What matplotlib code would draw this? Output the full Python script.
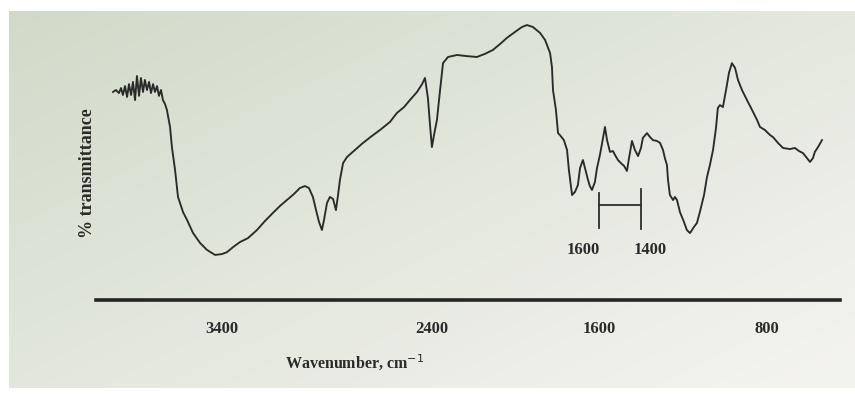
import matplotlib.pyplot as plt
import numpy as np

# spectrum (wavenumber in cm-1, relative % transmittance)
wavenumber = [3920, 3906, 3892, 3882, 3873, 3863, 3853, 3844, 3834, 3825,
              3815, 3806, 3796, 3787, 3777, 3768, 3758, 3748, 3739, 3729,
              3720, 3710, 3701, 3691, 3682, 3672, 3663, 3648, 3639, 3624,
              3610, 3586, 3567, 3538, 3505, 3472, 3433, 3400, 3376, 3347,
              3314, 3276, 3233, 3195, 3157, 3123, 3090, 3056, 3028, 3004,
              2985, 2966, 2951, 2937, 2923, 2913, 2899, 2885, 2870, 2856,
              2846, 2837, 2822, 2803, 2765, 2727, 2684, 2646, 2598, 2565,
              2531, 2503, 2469, 2445, 2431, 2417, 2407, 2398, 2388, 2374,
              2359, 2345, 2321, 2278, 2231, 2183, 2145, 2107, 2073, 2040,
              2002, 1968, 1944, 1916, 1882, 1858, 1834, 1825, 1820, 1806,
              1796, 1787, 1768, 1753, 1744, 1729, 1715, 1701, 1691, 1677,
              1667, 1653, 1644, 1634, 1620, 1610, 1596, 1581, 1572, 1562,
              1548, 1534, 1524, 1510, 1496, 1481, 1467, 1457, 1443, 1429,
              1414, 1400, 1391, 1371, 1357, 1343, 1324, 1309, 1295, 1286,
              1276, 1271, 1262, 1247, 1238, 1228, 1214, 1195, 1181, 1166,
              1147, 1133, 1119, 1099, 1085, 1071, 1056, 1042, 1033, 1023,
              1009, 994, 980, 966, 951, 937, 918, 894, 870, 846,
              832, 808, 784, 770, 746, 722, 689, 665, 646, 627,
              608, 593, 579, 570, 555, 536]
transmittance = [74.3, 75.0, 73.9, 75.7, 73.2, 76.4, 72.5, 77.1, 73.2, 77.9,
                 71.4, 80.0, 72.9, 79.3, 74.3, 78.6, 75.0, 77.9, 73.9, 77.1,
                 74.3, 76.4, 72.9, 75.0, 71.4, 70.0, 67.9, 61.8, 54.6, 46.4,
                 36.8, 31.4, 28.6, 23.9, 20.4, 17.9, 16.1, 16.4, 17.1, 18.9,
                 20.7, 22.1, 25.0, 28.2, 31.1, 33.6, 35.7, 37.9, 40.0, 40.7,
                 40.0, 36.8, 32.1, 27.9, 25.0, 28.6, 34.6, 36.8, 36.1, 32.1,
                 37.5, 42.9, 48.9, 51.1, 53.6, 56.1, 58.6, 60.7, 63.6, 66.8,
                 68.9, 71.4, 74.3, 77.1, 79.3, 72.1, 62.5, 54.6, 58.9, 64.3,
                 75.0, 84.6, 86.8, 87.5, 87.1, 86.8, 87.9, 89.3, 91.4, 93.6,
                 95.7, 97.5, 98.2, 97.5, 95.4, 92.9, 88.2, 83.2, 75.0, 67.9,
                 59.6, 58.9, 57.1, 53.6, 46.4, 37.5, 38.6, 41.1, 47.1, 50.0,
                 47.1, 42.9, 40.7, 39.3, 42.1, 47.1, 51.8, 57.9, 61.8, 57.1,
                 52.9, 53.2, 51.8, 50.0, 48.9, 47.9, 46.1, 50.7, 56.8, 53.6,
                 51.4, 54.3, 57.9, 59.6, 58.2, 57.1, 56.8, 56.1, 53.6, 50.7,
                 48.2, 42.9, 37.5, 35.7, 36.8, 35.7, 31.4, 27.9, 25.0, 23.9,
                 26.1, 27.5, 31.4, 37.5, 43.9, 48.2, 53.6, 61.4, 68.6, 69.6,
                 68.9, 75.0, 81.1, 84.6, 82.9, 78.6, 75.0, 71.4, 67.9, 64.3,
                 61.8, 60.7, 58.9, 58.2, 56.1, 54.3, 53.9, 54.3, 53.2, 52.5,
                 50.7, 49.3, 50.7, 52.9, 54.6, 57.1]

tick_values = [3400, 2400, 1600, 800]
bracket_range = [1600, 1400]

serif = ['Liberation Serif', 'DejaVu Serif']

fig = plt.figure(figsize=(8.55, 3.96), dpi=100)
fig.patch.set_facecolor('white')

# paper background: greenish grey top-left fading to off-white bottom-right
bg = fig.add_axes([9 / 855, 8 / 396, 1 - 9 / 855, 1 - 19 / 396])
u, v = np.meshgrid(np.linspace(0, 1, 200), np.linspace(0, 1, 100))
t = np.clip(0.55 * u + 0.5 * v, 0, 1)[..., None]
c0 = np.array([0.82, 0.855, 0.79])
c1 = np.array([0.955, 0.953, 0.935])
bg.imshow(c0 * (1 - t) + c1 * t, aspect='auto', interpolation='bilinear')
bg.axis('off')

ax = fig.add_axes([96.3 / 855, (396 - 300) / 396, (840 - 96.3) / 855, 280 / 396])
ax.patch.set_alpha(0)
ax.plot(wavenumber, transmittance, color='#2a2a2a', lw=1.35)
ax.set_xlim(4000, 450)
ax.set_ylim(0, 100)

for s in ['top', 'right', 'left']:
    ax.spines[s].set_visible(False)
ax.spines['bottom'].set_linewidth(2.6)
ax.spines['bottom'].set_color('#262626')
ax.set_yticks([])
ax.set_xticks(tick_values)
ax.set_xticklabels([str(v) for v in tick_values], family=serif,
                   fontweight='bold', fontsize=12, color='#2a2a2a')
ax.tick_params(axis='x', length=0, pad=15)

# bracket marking the 1600-1400 region
b0, b1 = bracket_range
ax.plot([b0, b0], [25.7, 38.2], color='#2e2e2e', lw=1.3)
ax.plot([b1, b1], [25.4, 39.6], color='#2e2e2e', lw=1.3)
ax.plot([b0, b1], [33.9, 33.9], color='#2e2e2e', lw=1.3)
ax.text(1677, 17.9, '1600', ha='center', va='center', family=serif,
        fontweight='bold', fontsize=12, color='#2a2a2a')
ax.text(1357, 17.9, '1400', ha='center', va='center', family=serif,
        fontweight='bold', fontsize=12, color='#2a2a2a')

fig.text(355 / 855, 1 - 362 / 396, 'Wavenumber, cm$^{-1}$', ha='center',
         va='center', family=serif, fontweight='bold', fontsize=11.5,
         color='#2a2a2a')
fig.text(87 / 855, 1 - 173 / 396, '% transmittance', rotation=90,
         ha='center', va='center', family=serif, fontweight='bold',
         fontsize=13, color='#2a2a2a')

plt.savefig('out.png', dpi=100)
